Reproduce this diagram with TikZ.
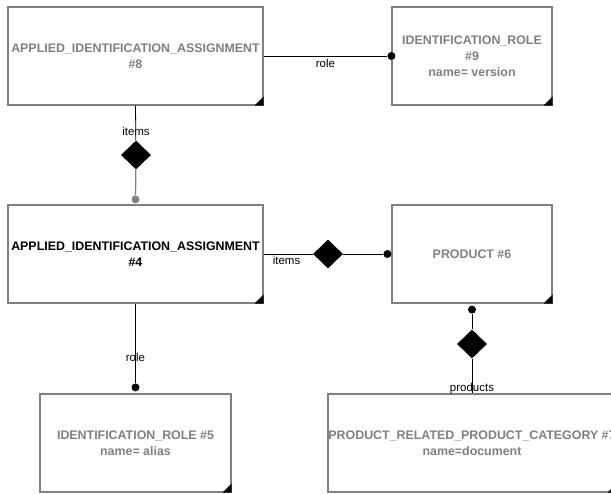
\documentclass[tikz,border=0pt]{standalone}
\usepackage{fontspec}
\setmainfont{Liberation Sans}
\usetikzlibrary{positioning, shapes.geometric, calc}

\definecolor{boxgray}{HTML}{808080}

\tikzset{
    entity/.style={draw=boxgray, line width=1.2pt, fill=white, inner sep=0pt,
        minimum width=#1, minimum height=98pt, align=center,
        text=boxgray, font=\bfseries\fontsize{12.4}{16}\selectfont},
    entity/.default=255pt,
    aggr/.style={diamond, fill=black, inner sep=0pt, minimum width=30pt, minimum height=29pt},
    dot/.style={circle, fill=#1, inner sep=0pt, minimum size=8pt},
    dot/.default=black,
    link/.style={black, line width=0.8pt},
    lbl/.style={font=\fontsize{11.5}{12}\selectfont, inner sep=1pt}
}

\begin{document}
\begin{tikzpicture}[x=1pt, y=-1pt]
    \useasboundingbox (0,0) rectangle (611,494);
    \clip (0,0) rectangle (611,494);

    % entities
    \node[entity] (a8) at (135.5,56) {APPLIED\_IDENTIFICATION\_ASSIGNMENT\\\#8};
    \node[entity=160pt] (r9) at (472,56) {IDENTIFICATION\_ROLE\\\#9\\name= version};
    \node[entity, text=black] (a4) at (135.5,254) {APPLIED\_IDENTIFICATION\_ASSIGNMENT\\\#4};
    \node[entity=160pt] (p6) at (472,254) {PRODUCT \#6};
    \node[entity=191pt] (r5) at (135.5,443) {IDENTIFICATION\_ROLE \#5\\name= alias};
    \node[entity=288pt] (c7) at (472,443) {PRODUCT\_RELATED\_PRODUCT\_CATEGORY \#7\\name=document};

    % corner marks
    \foreach \b in {a8,r9,a4,p6,r5,c7}
    {
        \fill[black] (\b.south east) -- ++(-9,0) -- ++(9,-9) -- cycle;
    }

    % aggregation diamonds and end dots
    \node[aggr] (d1) at (136,155) {};
    \node[aggr] (d2) at (328,254) {};
    \node[aggr] (d3) at (472,344) {};
    \node[dot] (e1) at (r9.west) {};
    \node[dot=boxgray] (e2) at ([yshift=5]a4.north) {};
    \node[dot] (e3) at ([xshift=-4]p6.west) {};
    \node[dot] (e4) at ([yshift=6]r5.north) {};
    \node[dot] (e5) at ([yshift=-6]p6.south) {};

    % connectors
    \draw[link] (a8.east) -- node[lbl, below=2pt] {role} (e1);
    \draw[link] (a8.south) -- (d1);
    \node[lbl] at (136,131) {items};
    \draw[boxgray, line width=1.2pt] (d1) -- (e2);
    \draw[link] (a4.east) -- (d2) -- (e3);
    \node[lbl, anchor=north west] at ([xshift=8,yshift=-1]a4.east) {items};
    \draw[link] (a4.south) -- node[lbl, pos=0.67] {role} (e4);
    \draw[link] (e5) -- (d3) -- (c7.north);
    \node[lbl, anchor=south] at ([yshift=-2]c7.north) {products};
\end{tikzpicture}
\end{document}
